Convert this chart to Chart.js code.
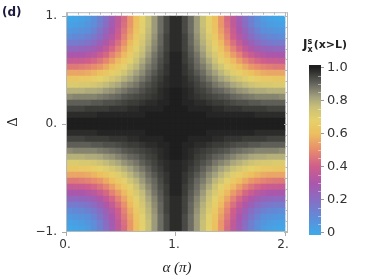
<!DOCTYPE html>
<html>
<head>
<meta charset="utf-8">
<script src="https://cdn.jsdelivr.net/npm/chart.js@4.4.0/dist/chart.umd.min.js"></script>
<style>
html, body { margin: 0; padding: 0; background: #fff; }
#wrap { position: relative; width: 374px; height: 280px; overflow: hidden; }
#main { position: absolute; left: 0; top: 0; }
#bar { position: absolute; left: 290px; top: 0; }
#panel { position: absolute; left: 2px; top: 5px; font: bold 12px "DejaVu Sans", sans-serif; color: #1a1a3c; }
#cbtitle { position: absolute; left: 303px; top: 37px; font: bold 11px "DejaVu Sans", sans-serif; color: #222; white-space: nowrap; }
#cbtitle .big { font-size: 12px; }
#cbtitle .ss { display: inline-block; vertical-align: -4px; font-size: 8px; line-height: 8px; margin: 0 1px 0 0; }
#cbtitle .ss span { display: block; }
</style>
</head>
<body>
<div id="wrap">
  <canvas id="main" width="374" height="280"></canvas>
  <canvas id="bar" width="84" height="280"></canvas>
  <div id="panel">(d)</div>
  <div id="cbtitle"><span class="big">J</span><span class="ss"><span>s</span><span>x</span></span>(x&gt;L)</div>
</div>
<script>
// grid cell centres (alpha in units of pi)
const alphaVals = [0.0278,0.0833,0.1389,0.1944,0.25,0.3056,0.3611,0.4167,0.4722,0.5278,0.5833,0.6389,0.6944,0.75,0.8056,0.8611,0.9167,0.9722,
                   1.0278,1.0833,1.1389,1.1944,1.25,1.3056,1.3611,1.4167,1.4722,1.5278,1.5833,1.6389,1.6944,1.75,1.8056,1.8611,1.9167,1.9722];
const deltaVals = [0.9722,0.9167,0.8611,0.8056,0.75,0.6944,0.6389,0.5833,0.5278,0.4722,0.4167,0.3611,0.3056,0.25,0.1944,0.1389,0.0833,0.0278,
                   -0.0278,-0.0833,-0.1389,-0.1944,-0.25,-0.3056,-0.3611,-0.4167,-0.4722,-0.5278,-0.5833,-0.6389,-0.6944,-0.75,-0.8056,-0.8611,-0.9167,-0.9722];

// J values, one row per Delta (top row first)
const jRows = [
 [0.00,0.01,0.02,0.04,0.08,0.13,0.19,0.27,0.35,0.43,0.52,0.60,0.68,0.76,0.83,0.89,0.94,0.98,0.98,0.94,0.89,0.83,0.76,0.68,0.60,0.52,0.43,0.35,0.27,0.19,0.13,0.08,0.04,0.02,0.01,0.00],
 [0.02,0.03,0.04,0.06,0.09,0.14,0.20,0.28,0.36,0.44,0.52,0.61,0.69,0.76,0.83,0.89,0.94,0.98,0.98,0.94,0.89,0.83,0.76,0.69,0.61,0.52,0.44,0.36,0.28,0.20,0.14,0.09,0.06,0.04,0.03,0.02],
 [0.05,0.06,0.07,0.08,0.12,0.17,0.23,0.30,0.38,0.46,0.54,0.62,0.69,0.77,0.83,0.89,0.94,0.98,0.98,0.94,0.89,0.83,0.77,0.69,0.62,0.54,0.46,0.38,0.30,0.23,0.17,0.12,0.08,0.07,0.06,0.05],
 [0.09,0.10,0.11,0.13,0.16,0.20,0.26,0.33,0.40,0.48,0.56,0.64,0.71,0.78,0.84,0.90,0.95,0.98,0.98,0.95,0.90,0.84,0.78,0.71,0.64,0.56,0.48,0.40,0.33,0.26,0.20,0.16,0.13,0.11,0.10,0.09],
 [0.15,0.15,0.16,0.18,0.21,0.25,0.31,0.37,0.44,0.51,0.59,0.66,0.73,0.79,0.85,0.90,0.95,0.98,0.98,0.95,0.90,0.85,0.79,0.73,0.66,0.59,0.51,0.44,0.37,0.31,0.25,0.21,0.18,0.16,0.15,0.15],
 [0.22,0.22,0.23,0.24,0.27,0.31,0.36,0.42,0.48,0.55,0.62,0.69,0.75,0.81,0.86,0.91,0.95,0.98,0.98,0.95,0.91,0.86,0.81,0.75,0.69,0.62,0.55,0.48,0.42,0.36,0.31,0.27,0.24,0.23,0.22,0.22],
 [0.29,0.30,0.30,0.32,0.34,0.38,0.42,0.48,0.53,0.59,0.65,0.72,0.77,0.83,0.88,0.92,0.96,0.99,0.99,0.96,0.92,0.88,0.83,0.77,0.72,0.65,0.59,0.53,0.48,0.42,0.38,0.34,0.32,0.30,0.30,0.29],
 [0.37,0.38,0.38,0.40,0.42,0.45,0.49,0.54,0.59,0.64,0.69,0.75,0.80,0.85,0.89,0.93,0.96,0.99,0.99,0.96,0.93,0.89,0.85,0.80,0.75,0.69,0.64,0.59,0.54,0.49,0.45,0.42,0.40,0.38,0.38,0.37],
 [0.46,0.46,0.47,0.48,0.50,0.52,0.56,0.60,0.64,0.69,0.74,0.78,0.83,0.87,0.90,0.94,0.97,0.99,0.99,0.97,0.94,0.90,0.87,0.83,0.78,0.74,0.69,0.64,0.60,0.56,0.52,0.50,0.48,0.47,0.46,0.46],
 [0.55,0.55,0.55,0.56,0.58,0.60,0.63,0.66,0.70,0.74,0.78,0.82,0.85,0.89,0.92,0.95,0.97,0.99,0.99,0.97,0.95,0.92,0.89,0.85,0.82,0.78,0.74,0.70,0.66,0.63,0.60,0.58,0.56,0.55,0.55,0.55],
 [0.63,0.63,0.64,0.64,0.66,0.68,0.70,0.73,0.76,0.79,0.82,0.85,0.88,0.91,0.94,0.96,0.98,0.99,0.99,0.98,0.96,0.94,0.91,0.88,0.85,0.82,0.79,0.76,0.73,0.70,0.68,0.66,0.64,0.64,0.63,0.63],
 [0.71,0.71,0.72,0.72,0.73,0.75,0.77,0.79,0.81,0.84,0.86,0.88,0.91,0.93,0.95,0.97,0.98,0.99,0.99,0.98,0.97,0.95,0.93,0.91,0.88,0.86,0.84,0.81,0.79,0.77,0.75,0.73,0.72,0.72,0.71,0.71],
 [0.79,0.79,0.79,0.80,0.80,0.81,0.83,0.84,0.86,0.88,0.90,0.91,0.93,0.95,0.96,0.98,0.99,1.00,1.00,0.99,0.98,0.96,0.95,0.93,0.91,0.90,0.88,0.86,0.84,0.83,0.81,0.80,0.80,0.79,0.79,0.79],
 [0.85,0.86,0.86,0.86,0.86,0.87,0.88,0.89,0.90,0.92,0.93,0.94,0.95,0.96,0.97,0.98,0.99,1.00,1.00,0.99,0.98,0.97,0.96,0.95,0.94,0.93,0.92,0.90,0.89,0.88,0.87,0.86,0.86,0.86,0.86,0.85],
 [0.91,0.91,0.91,0.91,0.92,0.92,0.93,0.93,0.94,0.95,0.96,0.96,0.97,0.98,0.98,0.99,0.99,1.00,1.00,0.99,0.99,0.98,0.98,0.97,0.96,0.96,0.95,0.94,0.93,0.93,0.92,0.92,0.91,0.91,0.91,0.91],
 [0.95,0.95,0.95,0.96,0.96,0.96,0.96,0.97,0.97,0.97,0.98,0.98,0.99,0.99,0.99,0.99,1.00,1.00,1.00,1.00,0.99,0.99,0.99,0.99,0.98,0.98,0.97,0.97,0.97,0.96,0.96,0.96,0.96,0.95,0.95,0.95],
 [0.98,0.98,0.98,0.98,0.98,0.99,0.99,0.99,0.99,0.99,0.99,0.99,0.99,1.00,1.00,1.00,1.00,1.00,1.00,1.00,1.00,1.00,1.00,0.99,0.99,0.99,0.99,0.99,0.99,0.99,0.99,0.98,0.98,0.98,0.98,0.98],
 [1.00,1.00,1.00,1.00,1.00,1.00,1.00,1.00,1.00,1.00,1.00,1.00,1.00,1.00,1.00,1.00,1.00,1.00,1.00,1.00,1.00,1.00,1.00,1.00,1.00,1.00,1.00,1.00,1.00,1.00,1.00,1.00,1.00,1.00,1.00,1.00],
 [1.00,1.00,1.00,1.00,1.00,1.00,1.00,1.00,1.00,1.00,1.00,1.00,1.00,1.00,1.00,1.00,1.00,1.00,1.00,1.00,1.00,1.00,1.00,1.00,1.00,1.00,1.00,1.00,1.00,1.00,1.00,1.00,1.00,1.00,1.00,1.00],
 [0.98,0.98,0.98,0.98,0.98,0.99,0.99,0.99,0.99,0.99,0.99,0.99,0.99,1.00,1.00,1.00,1.00,1.00,1.00,1.00,1.00,1.00,1.00,0.99,0.99,0.99,0.99,0.99,0.99,0.99,0.99,0.98,0.98,0.98,0.98,0.98],
 [0.95,0.95,0.95,0.96,0.96,0.96,0.96,0.97,0.97,0.97,0.98,0.98,0.99,0.99,0.99,0.99,1.00,1.00,1.00,1.00,0.99,0.99,0.99,0.99,0.98,0.98,0.97,0.97,0.97,0.96,0.96,0.96,0.96,0.95,0.95,0.95],
 [0.91,0.91,0.91,0.91,0.92,0.92,0.93,0.93,0.94,0.95,0.96,0.96,0.97,0.98,0.98,0.99,0.99,1.00,1.00,0.99,0.99,0.98,0.98,0.97,0.96,0.96,0.95,0.94,0.93,0.93,0.92,0.92,0.91,0.91,0.91,0.91],
 [0.85,0.86,0.86,0.86,0.86,0.87,0.88,0.89,0.90,0.92,0.93,0.94,0.95,0.96,0.97,0.98,0.99,1.00,1.00,0.99,0.98,0.97,0.96,0.95,0.94,0.93,0.92,0.90,0.89,0.88,0.87,0.86,0.86,0.86,0.86,0.85],
 [0.79,0.79,0.79,0.80,0.80,0.81,0.83,0.84,0.86,0.88,0.90,0.91,0.93,0.95,0.96,0.98,0.99,1.00,1.00,0.99,0.98,0.96,0.95,0.93,0.91,0.90,0.88,0.86,0.84,0.83,0.81,0.80,0.80,0.79,0.79,0.79],
 [0.71,0.71,0.72,0.72,0.73,0.75,0.77,0.79,0.81,0.84,0.86,0.88,0.91,0.93,0.95,0.97,0.98,0.99,0.99,0.98,0.97,0.95,0.93,0.91,0.88,0.86,0.84,0.81,0.79,0.77,0.75,0.73,0.72,0.72,0.71,0.71],
 [0.63,0.63,0.64,0.64,0.66,0.68,0.70,0.73,0.76,0.79,0.82,0.85,0.88,0.91,0.94,0.96,0.98,0.99,0.99,0.98,0.96,0.94,0.91,0.88,0.85,0.82,0.79,0.76,0.73,0.70,0.68,0.66,0.64,0.64,0.63,0.63],
 [0.55,0.55,0.55,0.56,0.58,0.60,0.63,0.66,0.70,0.74,0.78,0.82,0.85,0.89,0.92,0.95,0.97,0.99,0.99,0.97,0.95,0.92,0.89,0.85,0.82,0.78,0.74,0.70,0.66,0.63,0.60,0.58,0.56,0.55,0.55,0.55],
 [0.46,0.46,0.47,0.48,0.50,0.52,0.56,0.60,0.64,0.69,0.74,0.78,0.83,0.87,0.90,0.94,0.97,0.99,0.99,0.97,0.94,0.90,0.87,0.83,0.78,0.74,0.69,0.64,0.60,0.56,0.52,0.50,0.48,0.47,0.46,0.46],
 [0.37,0.38,0.38,0.40,0.42,0.45,0.49,0.54,0.59,0.64,0.69,0.75,0.80,0.85,0.89,0.93,0.96,0.99,0.99,0.96,0.93,0.89,0.85,0.80,0.75,0.69,0.64,0.59,0.54,0.49,0.45,0.42,0.40,0.38,0.38,0.37],
 [0.29,0.30,0.30,0.32,0.34,0.38,0.42,0.48,0.53,0.59,0.65,0.72,0.77,0.83,0.88,0.92,0.96,0.99,0.99,0.96,0.92,0.88,0.83,0.77,0.72,0.65,0.59,0.53,0.48,0.42,0.38,0.34,0.32,0.30,0.30,0.29],
 [0.22,0.22,0.23,0.24,0.27,0.31,0.36,0.42,0.48,0.55,0.62,0.69,0.75,0.81,0.86,0.91,0.95,0.98,0.98,0.95,0.91,0.86,0.81,0.75,0.69,0.62,0.55,0.48,0.42,0.36,0.31,0.27,0.24,0.23,0.22,0.22],
 [0.15,0.15,0.16,0.18,0.21,0.25,0.31,0.37,0.44,0.51,0.59,0.66,0.73,0.79,0.85,0.90,0.95,0.98,0.98,0.95,0.90,0.85,0.79,0.73,0.66,0.59,0.51,0.44,0.37,0.31,0.25,0.21,0.18,0.16,0.15,0.15],
 [0.09,0.10,0.11,0.13,0.16,0.20,0.26,0.33,0.40,0.48,0.56,0.64,0.71,0.78,0.84,0.90,0.95,0.98,0.98,0.95,0.90,0.84,0.78,0.71,0.64,0.56,0.48,0.40,0.33,0.26,0.20,0.16,0.13,0.11,0.10,0.09],
 [0.05,0.06,0.07,0.08,0.12,0.17,0.23,0.30,0.38,0.46,0.54,0.62,0.69,0.77,0.83,0.89,0.94,0.98,0.98,0.94,0.89,0.83,0.77,0.69,0.62,0.54,0.46,0.38,0.30,0.23,0.17,0.12,0.08,0.07,0.06,0.05],
 [0.02,0.03,0.04,0.06,0.09,0.14,0.20,0.28,0.36,0.44,0.52,0.61,0.69,0.76,0.83,0.89,0.94,0.98,0.98,0.94,0.89,0.83,0.76,0.69,0.61,0.52,0.44,0.36,0.28,0.20,0.14,0.09,0.06,0.04,0.03,0.02],
 [0.00,0.01,0.02,0.04,0.08,0.13,0.19,0.27,0.35,0.43,0.52,0.60,0.68,0.76,0.83,0.89,0.94,0.98,0.98,0.94,0.89,0.83,0.76,0.68,0.60,0.52,0.43,0.35,0.27,0.19,0.13,0.08,0.04,0.02,0.01,0.00]
];

const xTickVals = [0, 1, 2];
const xTickLabels = ['0.', '1.', '2.'];
const yTickVals = [-1, 0, 1];
const yTickLabels = ['\u22121.', '0.', '1.'];
const xMinor = [0,0.1,0.2,0.3,0.4,0.5,0.6,0.7,0.8,0.9,1,1.1,1.2,1.3,1.4,1.5,1.6,1.7,1.8,1.9,2];
const yMinor = [-1,-0.9,-0.8,-0.7,-0.6,-0.5,-0.4,-0.3,-0.2,-0.1,0,0.1,0.2,0.3,0.4,0.5,0.6,0.7,0.8,0.9,1];

const cbTickVals = [0, 0.2, 0.4, 0.6, 0.8, 1.0];
const cbTickLabels = ['0', '0.2', '0.4', '0.6', '0.8', '1.0'];
const cbMinor = [0.05,0.1,0.15,0.25,0.3,0.35,0.45,0.5,0.55,0.65,0.7,0.75,0.85,0.9,0.95];

// colour scale
const cmapStops  = [0, 0.1, 0.2, 0.3, 0.4, 0.5, 0.6, 0.68, 0.76, 0.82, 0.9, 1.0];
const cmapColors = ['#41a7e7','#6389d6','#896dc3','#ab57ab','#cf5e8b','#e78c6d','#ecbf5f','#e5d16b','#c9c078','#a4a17e','#66665f','#1e1e1e'];

const hexRgb = h => [1, 3, 5].map(i => parseInt(h.substr(i, 2), 16));
const colorFor = v => {
    for (let i = 1; i < cmapStops.length; i++) {
        if (v <= cmapStops[i]) {
            const t = (v - cmapStops[i-1]) / (cmapStops[i] - cmapStops[i-1]);
            const a = hexRgb(cmapColors[i-1]), b = hexRgb(cmapColors[i]);
            return 'rgb(' + a.map((c, k) => Math.round(c + (b[k] - c) * t)).join(',') + ')';
        }
    }
    return cmapColors[cmapColors.length - 1];
};

const cells = [];
deltaVals.forEach((d, r) => alphaVals.forEach((a, c) => cells.push({x: a, y: d, v: jRows[r][c]})));

const cellSize = alphaVals[1] - alphaVals[0];
const font = {family: '"DejaVu Sans", sans-serif', size: 12};

const framePlugin = {
    id: 'frame',
    afterDatasetsDraw(chart) {
        const {ctx, chartArea: a, scales: {x, y}} = chart;
        ctx.save();
        ctx.strokeStyle = '#b8b8b8';
        ctx.lineWidth = 1;
        ctx.strokeRect(a.left + 0.5, a.top + 0.5, a.width - 1, a.height - 1);
        ctx.beginPath();
        xMinor.forEach((v, i) => {
            const px = Math.round(x.getPixelForValue(v)) + 0.5;
            const len = i % 5 === 0 ? 4 : 2.5;
            ctx.moveTo(px, a.top); ctx.lineTo(px, a.top + len);
        });
        yMinor.forEach((v, i) => {
            const py = Math.round(y.getPixelForValue(v)) + 0.5;
            const len = i % 5 === 0 ? 4 : 2.5;
            ctx.moveTo(a.right, py); ctx.lineTo(a.right - len, py);
        });
        ctx.stroke();
        ctx.restore();
    }
};

new Chart('main', {
    type: 'scatter',
    data: {
        datasets: [{
            data: cells,
            pointStyle: 'rect',
            borderWidth: 0,
            backgroundColor: c => c.raw ? colorFor(c.raw.v) : '#000',
            radius: c => {
                const sx = c.chart.scales.x;
                const w = Math.abs(sx.getPixelForValue(cellSize) - sx.getPixelForValue(0));
                return (w + 0.7) / Math.SQRT2;
            },
            hoverRadius: 0
        }]
    },
    options: {
        responsive: false,
        animation: false,
        events: [],
        layout: {padding: {left: 0, top: 10, right: 86, bottom: 0}},
        plugins: {legend: {display: false}, tooltip: {enabled: false}},
        scales: {
            x: {
                type: 'linear', min: -0.009, max: 2.0275,
                afterFit: s => { s.height = 48; },
                afterBuildTicks: s => { s.ticks = xTickVals.map(v => ({value: v})); },
                ticks: {font, color: '#333', padding: 2, labelOffset: -2, maxRotation: 0,
                        callback: (v, i) => xTickLabels[i]},
                grid: {drawOnChartArea: false, tickLength: 4, color: '#aaa'},
                border: {display: false},
                title: {display: true, text: 'α (π)', color: '#222', padding: {top: 0, bottom: 3},
                        font: {family: '"Liberation Serif", serif', size: 15, style: 'italic'}}
            },
            y: {
                type: 'linear', min: -1, max: 1.0367,
                afterFit: s => { s.width = 66; },
                afterBuildTicks: s => { s.ticks = yTickVals.map(v => ({value: v})); },
                ticks: {font, color: '#333', padding: 5, callback: (v, i) => yTickLabels[i]},
                grid: {drawOnChartArea: false, tickLength: 4, color: '#aaa'},
                border: {display: false},
                title: {display: true, text: 'Δ', color: '#222', padding: {top: 5, bottom: 0},
                        font: {family: '"Liberation Serif", serif', size: 14}}
            }
        }
    },
    plugins: [framePlugin]
});

const cbMin = -0.015, cbMax = 1.015;
const cbPlugin = {
    id: 'cbminor',
    afterDatasetsDraw(chart) {
        const {ctx, chartArea: a, scales: {y}} = chart;
        ctx.save();
        ctx.strokeStyle = 'rgba(255,255,255,0.45)';
        ctx.beginPath();
        cbMinor.forEach(v => {
            const py = Math.round(y.getPixelForValue(v)) + 0.5;
            ctx.moveTo(a.right - 3, py); ctx.lineTo(a.right, py);
        });
        ctx.stroke();
        ctx.restore();
    }
};

new Chart('bar', {
    type: 'bar',
    data: {
        labels: ['J'],
        datasets: [{
            data: [[cbMin, cbMax]],
            borderWidth: 0,
            barPercentage: 1,
            categoryPercentage: 1,
            backgroundColor: c => {
                const ch = c.chart;
                if (!ch.chartArea) return cmapColors[0];
                const y = ch.scales.y;
                const g = ch.ctx.createLinearGradient(0, y.getPixelForValue(0), 0, y.getPixelForValue(1));
                cmapStops.forEach((s, i) => g.addColorStop(s, cmapColors[i]));
                return g;
            }
        }]
    },
    options: {
        responsive: false,
        animation: false,
        events: [],
        layout: {padding: {left: 19, top: 65, right: 0, bottom: 45}},
        plugins: {legend: {display: false}, tooltip: {enabled: false}},
        scales: {
            x: {display: false},
            y: {
                position: 'right', min: cbMin, max: cbMax,
                afterFit: s => { s.width = 53; },
                afterBuildTicks: s => { s.ticks = cbTickVals.map(v => ({value: v})); },
                ticks: {font: {family: '"DejaVu Sans", sans-serif', size: 13}, color: '#333', padding: 3,
                        callback: (v, i) => cbTickLabels[i]},
                grid: {drawOnChartArea: false, tickLength: 3, color: '#999'},
                border: {display: false}
            }
        }
    },
    plugins: [cbPlugin]
});
</script>
</body>
</html>
